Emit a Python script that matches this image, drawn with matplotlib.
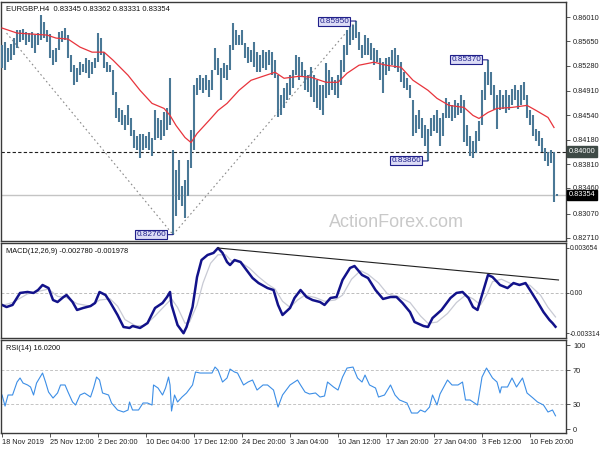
import numpy as np
import matplotlib
matplotlib.use("Agg")
import matplotlib.pyplot as plt

plt.rcParams['font.family'] = ['Liberation Sans', 'DejaVu Sans']

# ---------------- data ----------------
title = "EURGBP.H4  0.83345 0.83362 0.83331 0.83354"
tick_idx = [0, 32, 64, 96, 128, 160, 192, 224, 256, 288, 320, 352]
tick_labels = ["18 Nov 2019", "25 Nov 12:00", "2 Dec 20:00", "10 Dec 04:00",
               "17 Dec 12:00", "24 Dec 20:00", "3 Jan 04:00", "10 Jan 12:00",
               "17 Jan 20:00", "27 Jan 04:00", "3 Feb 12:00", "10 Feb 20:00"]

# price bars (every second H4 bar)
highs = [0.8559, 0.8564, 0.8555, 0.8561, 0.8570, 0.8582, 0.8582, 0.8583, 0.8579, 0.8577,
         0.8579, 0.8574, 0.8577, 0.8604, 0.8594, 0.8582, 0.8576, 0.8552, 0.8555, 0.8579,
         0.8580, 0.8585, 0.8574, 0.8544, 0.8529, 0.8525, 0.8534, 0.8531, 0.8540, 0.8537,
         0.8534, 0.8540, 0.8577, 0.8570, 0.8549, 0.8534, 0.8529, 0.8522, 0.8489, 0.8465,
         0.8462, 0.8454, 0.8469, 0.8450, 0.8432, 0.8424, 0.8427, 0.8427, 0.8424, 0.8429,
         0.8421, 0.8462, 0.8450, 0.8447, 0.8459, 0.8465, 0.8510, 0.8402, 0.8372, 0.8387,
         0.8349, 0.8357, 0.8387, 0.8432, 0.8499, 0.8510, 0.8514, 0.8510, 0.8514, 0.8507,
         0.8522, 0.8555, 0.8540, 0.8525, 0.8532, 0.8529, 0.8559, 0.8592, 0.8582, 0.8574,
         0.8582, 0.8562, 0.8556, 0.8552, 0.8564, 0.8549, 0.8544, 0.8552, 0.8549, 0.8552,
         0.8549, 0.8537, 0.8514, 0.8484, 0.8495, 0.8502, 0.8514, 0.8522, 0.8544, 0.8541,
         0.8534, 0.8522, 0.8514, 0.8526, 0.8514, 0.8507, 0.8499, 0.8499, 0.8532, 0.8522,
         0.8511, 0.8507, 0.8514, 0.8537, 0.8559, 0.8582, 0.8586, 0.8589, 0.8595, 0.8579,
         0.8559, 0.8574, 0.8570, 0.8562, 0.8555, 0.8552, 0.8540, 0.8534, 0.8540, 0.8541,
         0.8552, 0.8555, 0.8544, 0.8534, 0.8519, 0.8510, 0.8499, 0.8477, 0.8454, 0.8462,
         0.8450, 0.8439, 0.8434, 0.8450, 0.8454, 0.8462, 0.8450, 0.8458, 0.8480, 0.8474,
         0.8469, 0.8477, 0.8472, 0.8484, 0.8477, 0.8439, 0.8424, 0.8416, 0.8431, 0.8446,
         0.8492, 0.8519, 0.8537, 0.8519, 0.8499, 0.8484, 0.8492, 0.8484, 0.8492, 0.8484,
         0.8494, 0.8499, 0.8492, 0.8499, 0.8504, 0.8484, 0.8462, 0.8454, 0.8434, 0.8431,
         0.8420, 0.8405, 0.8399, 0.8402, 0.8399, 0.83362]
lows = [0.8525, 0.8522, 0.8534, 0.8537, 0.8544, 0.8555, 0.8564, 0.8567, 0.8559, 0.8564,
        0.8555, 0.8547, 0.8559, 0.8567, 0.8570, 0.8564, 0.8540, 0.8529, 0.8534, 0.8552,
        0.8564, 0.8567, 0.8540, 0.8519, 0.8499, 0.8504, 0.8514, 0.8519, 0.8517, 0.8510,
        0.8516, 0.8525, 0.8534, 0.8544, 0.8525, 0.8519, 0.8519, 0.8484, 0.8450, 0.8444,
        0.8439, 0.8432, 0.8439, 0.8424, 0.8405, 0.8402, 0.8391, 0.8402, 0.8405, 0.8402,
        0.8394, 0.8417, 0.8420, 0.8417, 0.8424, 0.8432, 0.8439, 0.8276, 0.8304, 0.8327,
        0.8319, 0.8301, 0.8334, 0.8375, 0.8402, 0.8484, 0.8492, 0.8487, 0.8492, 0.8481,
        0.8492, 0.8522, 0.8514, 0.8477, 0.8510, 0.8507, 0.8522, 0.8552, 0.8559, 0.8559,
        0.8559, 0.8540, 0.8532, 0.8534, 0.8526, 0.8519, 0.8519, 0.8525, 0.8522, 0.8529,
        0.8514, 0.8510, 0.8451, 0.8454, 0.8465, 0.8477, 0.8484, 0.8495, 0.8514, 0.8507,
        0.8511, 0.8492, 0.8489, 0.8481, 0.8474, 0.8465, 0.8462, 0.8454, 0.8480, 0.8484,
        0.8492, 0.8484, 0.8480, 0.8499, 0.8519, 0.8544, 0.8559, 0.8567, 0.8570, 0.8552,
        0.8540, 0.8544, 0.8544, 0.8537, 0.8529, 0.8534, 0.8507, 0.8487, 0.8514, 0.8521,
        0.8529, 0.8525, 0.8519, 0.8504, 0.8495, 0.8492, 0.8480, 0.8424, 0.8428, 0.8434,
        0.8421, 0.8409, 0.8386, 0.8424, 0.8431, 0.8428, 0.8409, 0.8424, 0.8450, 0.8450,
        0.8446, 0.8450, 0.8454, 0.8458, 0.8414, 0.8409, 0.8394, 0.8391, 0.8398, 0.8416,
        0.8439, 0.8477, 0.8499, 0.8484, 0.8462, 0.8434, 0.8462, 0.8464, 0.8458, 0.8462,
        0.8469, 0.8477, 0.8464, 0.8469, 0.8477, 0.8450, 0.8439, 0.8424, 0.8416, 0.8409,
        0.8399, 0.8386, 0.8379, 0.8383, 0.8324, 0.83331]
bar_idx = np.arange(len(highs)) * 2

# moving average (red)
ma_idx = [0, 10, 20, 30, 36, 44, 52, 60, 68, 74, 84, 92, 100, 108, 112, 116, 122, 126,
          130, 138, 144, 150, 158, 166, 176, 182, 188, 198, 206, 216, 224, 230, 238, 248,
          256, 266, 274, 284, 290, 298, 308, 314, 318, 324, 330, 340, 350, 356, 364, 368]
ma_val = [0.85845, 0.8577, 0.85755, 0.8574, 0.85695, 0.8568, 0.8556, 0.85485, 0.85485,
          0.85365, 0.8514, 0.84915, 0.8472, 0.84645, 0.8454, 0.8439, 0.8421, 0.84135,
          0.8427, 0.84465, 0.84615, 0.8472, 0.84915, 0.85065, 0.8514, 0.85185, 0.85095,
          0.85125, 0.8511, 0.85035, 0.85035, 0.8517, 0.8529, 0.85335, 0.8529, 0.8526,
          0.85065, 0.84915, 0.84795, 0.8469, 0.8466, 0.8454, 0.84495, 0.84585, 0.84645,
          0.8466, 0.8469, 0.84615, 0.8451, 0.8436]

# MACD(12,26,9)
macd_idx = [0, 3, 7, 12, 17, 21, 24, 27, 31, 34, 37, 41, 43, 47, 50, 54, 59, 62, 65, 69,
            72, 77, 81, 85, 87, 92, 97, 102, 107, 110, 112, 113, 117, 121, 123, 127, 130,
            133, 137, 141, 144, 147, 150, 152, 155, 159, 163, 167, 171, 177, 181, 184, 187,
            192, 195, 199, 203, 207, 212, 215, 219, 223, 227, 232, 235, 240, 244, 249, 254,
            259, 263, 267, 272, 275, 281, 284, 287, 293, 299, 303, 307, 311, 314, 317, 321,
            324, 327, 332, 337, 341, 345, 349, 352, 357, 361, 365, 367, 369]
macd_val = [-0.00100, -0.00117, -0.00100, -0.00002, 0.00006, -0.00002, 0.00022, 0.00063,
            0.00038, -0.00060, -0.00076, -0.00035, -0.00019, -0.00076, -0.00141, -0.00125,
            -0.00109, -0.00084, 0.00006, -0.00019, -0.00076, -0.00182, -0.00280, -0.00288,
            -0.00272, -0.00288, -0.00248, -0.00125, -0.00084, -0.00035, 0.00006, -0.00100,
            -0.00264, -0.00331, -0.00280, -0.00117, 0.00128, 0.00267, 0.00308, 0.00325,
            0.00365, 0.00325, 0.00251, 0.00226, 0.00267, 0.00251, 0.00185, 0.00120, 0.00079,
            0.00038, 0.00022, -0.00100, -0.00182, -0.00125, -0.00043, 0.00022, -0.00035,
            -0.00060, -0.00076, -0.00100, -0.00043, -0.00035, 0.00104, 0.00202, 0.00218,
            0.00145, 0.00120, 0.00022, -0.00051, -0.00035, -0.00035, -0.00084, -0.00158,
            -0.00239, -0.00272, -0.00280, -0.00207, -0.00141, -0.00043, -0.00002, 0.00006,
            -0.00043, -0.00117, -0.00141, 0.00022, 0.00145, 0.00128, 0.00063, 0.00038,
            0.00079, 0.00063, 0.00079, 0.00022, -0.00076, -0.00158, -0.00223, -0.00248,
            -0.00278]
sig_idx = [0, 7, 17, 24, 31, 37, 43, 50, 59, 65, 72, 77, 82, 89, 95, 102, 109, 113, 117,
           122, 125, 130, 134, 139, 144, 149, 153, 159, 165, 171, 177, 182, 187, 192, 197,
           202, 209, 215, 222, 227, 233, 239, 244, 251, 257, 264, 272, 279, 284, 290, 297,
           303, 309, 314, 319, 323, 327, 333, 340, 347, 352, 359, 364, 369]
sig_val = [-0.00105, -0.0008, -0.0001, 0.0001, 0.0003, -0.0003, -0.0004, -0.0009, -0.0011,
           -0.0006, -0.0005, -0.0011, -0.0022, -0.0027, -0.0027, -0.0019, -0.0010, -0.0005,
           -0.0012, -0.0025, -0.0024, -0.0010, 0.0008, 0.0024, 0.0031, 0.0031, 0.0026,
           0.0025, 0.0020, 0.0013, 0.0007, 0.0003, -0.0007, -0.0012, -0.0006, -0.0002,
           -0.0004, -0.0007, -0.0006, -0.0002, 0.0011, 0.0018, 0.0015, 0.0008, -0.0001,
           -0.0003, -0.0008, -0.0019, -0.0025, -0.0024, -0.0017, -0.0008, -0.0002, -0.0005,
           -0.0010, -0.0002, 0.0009, 0.0011, 0.0007, 0.0007, 0.0006, -0.0002, -0.0012,
           -0.00198]
macd_trend_idx = [144, 371]
macd_trend_val = [0.00365, 0.00104]

# RSI(14)
rsi_idx = [0, 2, 4, 7, 10, 12, 14, 17, 19, 21, 23, 27, 29, 31, 34, 37, 39, 42, 44, 47, 49,
           52, 55, 59, 61, 63, 65, 67, 71, 73, 77, 81, 84, 85, 87, 91, 94, 97, 100, 101,
           104, 107, 109, 111, 112, 113, 115, 117, 120, 123, 127, 129, 132, 137, 140, 142,
           144, 147, 150, 152, 155, 157, 161, 164, 167, 170, 174, 177, 181, 184, 187, 192,
           197, 199, 202, 205, 209, 212, 215, 217, 221, 224, 227, 230, 234, 237, 240, 242,
           245, 249, 251, 255, 259, 262, 265, 270, 273, 277, 279, 282, 285, 287, 290, 292,
           297, 300, 304, 307, 309, 312, 315, 317, 320, 323, 327, 330, 332, 333, 337, 340,
           343, 347, 350, 354, 357, 361, 364, 367, 369]
rsi_val = [40.7, 27.6, 40.7, 40.7, 56.1, 60.9, 54.9, 52.6, 50.2, 40.7, 54.9, 66.8, 56.1,
           44.2, 37.1, 43.1, 52.6, 52.6, 44.2, 32.4, 28.8, 40.7, 43.1, 38.3, 49.0, 62.0,
           58.5, 43.1, 40.7, 31.2, 22.9, 20.5, 22.9, 32.4, 22.9, 22.9, 31.2, 31.2, 28.8,
           52.6, 49.0, 40.7, 49.0, 62.0, 52.6, 21.7, 40.7, 32.4, 38.3, 43.1, 52.6, 68.0,
           66.8, 66.8, 66.8, 73.9, 70.3, 56.1, 60.9, 71.5, 68.0, 66.8, 52.6, 56.1, 58.5,
           46.6, 52.6, 52.6, 46.6, 26.4, 40.7, 52.6, 58.5, 52.6, 44.2, 41.9, 43.1, 38.3,
           39.5, 56.1, 50.2, 46.6, 62.0, 72.7, 73.9, 60.9, 56.1, 64.4, 52.6, 49.0, 38.3,
           40.7, 52.6, 40.7, 34.8, 31.2, 19.3, 19.3, 22.9, 20.5, 26.4, 40.7, 28.8, 41.9,
           58.5, 52.6, 52.6, 56.1, 34.8, 34.8, 31.2, 28.8, 62.0, 72.7, 60.9, 56.1, 43.1,
           50.2, 50.2, 60.9, 50.2, 60.9, 43.1, 37.1, 32.4, 28.8, 20.5, 22.9, 16.0]

# pivots and trend lines on price
pivot_idx = [114, 236, 284, 324]
pivot_price = [0.82760, 0.85950, 0.83860, 0.85370]
trend_idx = [3, 114, 236]
trend_price = [0.8577, 0.82760, 0.85950]

price_ticks = [0.86010, 0.85650, 0.85280, 0.84910, 0.84540, 0.84180, 0.83810,
               0.83460, 0.83070, 0.82710]
level_line = 0.84000
last_price = 0.83354
macd_ticks = [0.003654, 0.0, -0.003314]
macd_tick_labels = ["0.003654", "0.00", "-0.003314"]
rsi_ticks = [100, 70, 30, 0]
rsi_title = "RSI(14) 16.0200"
macd_title = "MACD(12,26,9) -0.002780 -0.001978"

# ---------------- layout ----------------
W, H = 600, 450
fig = plt.figure(figsize=(6, 4.5), dpi=100)
fig.patch.set_facecolor('white')

def rect(l, t, r, b):
    return [l / W, 1 - b / H, (r - l) / W, (b - t) / H]

ax1 = fig.add_axes(rect(1, 2, 566, 241))
ax2 = fig.add_axes(rect(1, 243, 566, 338))
ax3 = fig.add_axes(rect(1, 340, 566, 433))

FS = 5.3
spine_c = '#3a3a3a'
for ax in (ax1, ax2, ax3):
    ax.set_xlim(-0.7, 376)
    for s in ax.spines.values():
        s.set_color(spine_c)
        s.set_linewidth(1.0)
    ax.yaxis.tick_right()
    ax.tick_params(axis='y', labelsize=FS, length=3, width=0.6, pad=2,
                   direction='out', colors=spine_c, labelcolor='#222222')
    ax.set_facecolor('white')

# main panel
ax1.set_ylim(0.82665, 0.86234)
ax1.axhline(last_price, color='#c4c4c4', lw=1.0, zorder=1)
ax1.axhline(level_line, color='#202020', lw=0.8, ls=(0, (3, 2)), zorder=1)
ax1.plot(trend_idx[:2], trend_price[:2], color='#8a8a8a', lw=0.8, ls=(0, (1.5, 2.5)), zorder=2)
ax1.plot(trend_idx[1:], trend_price[1:], color='#8a8a8a', lw=0.8, ls=(0, (1.5, 2.5)), zorder=2)
ax1.vlines(bar_idx, lows, highs, color='#4a7896', lw=1.5, zorder=3)
ax1.plot(ma_idx, ma_val, color='#e8343c', lw=0.9, zorder=4)
ax1.set_yticks(price_ticks)
ax1.set_yticklabels([f"{v:.5f}" for v in price_ticks])
ax1.set_xticks([])

for pi, pp in zip(pivot_idx, pivot_price):
    ax1.annotate(f"{pp:.5f}", xy=(pi, pp), xytext=(-5, 0), textcoords='offset points',
                 ha='right', va='center', fontsize=FS + 0.6, color='#20208a',
                 bbox=dict(boxstyle='square,pad=0.12', fc='#dcdcf6', ec='#20208a', lw=0.8),
                 arrowprops=dict(arrowstyle='-', color='#20208a', lw=0.8,
                                 shrinkA=0, shrinkB=0), zorder=6)

# price boxes on the axis
for val, fc in ((level_line, '#3e4a46'), (last_price, '#000000')):
    ax1.text(1.005, val, f"{val:.5f}", transform=ax1.get_yaxis_transform(),
             ha='left', va='center', fontsize=FS, color='white', zorder=7,
             bbox=dict(boxstyle='square,pad=0.25', fc=fc, ec=fc), clip_on=False)

ax1.text(0.008, 0.985, title, transform=ax1.transAxes, ha='left', va='top',
         fontsize=FS + 0.2, color='#111111')
fig.text(396 / W, 1 - 222 / H, "ActionForex.com", ha='center', va='center',
         fontsize=13, color='#c9c9c9', family='Liberation Sans')

# MACD panel
ax2.set_ylim(-0.00370, 0.00406)
ax2.axhline(0, color='#bcbcbc', lw=0.7, ls=(0, (3, 2)))
ax2.plot(sig_idx, sig_val, color='#c8cad4', lw=0.9)
ax2.plot(macd_idx, macd_val, color='#12128a', lw=1.8)
ax2.plot(macd_trend_idx, macd_trend_val, color='#202020', lw=0.8)
ax2.set_yticks(macd_ticks)
ax2.set_yticklabels(macd_tick_labels)
ax2.tick_params(axis='y', labelsize=4.9, length=2, pad=1)
ax2.set_xticks([])
ax2.text(0.008, 0.95, macd_title, transform=ax2.transAxes, ha='left', va='top',
         fontsize=FS, color='#111111')

# RSI panel
ax3.set_ylim(-4.4, 106)
for lv in (70, 30):
    ax3.axhline(lv, color='#c4c4c4', lw=0.7, ls=(0, (3, 2)))
ax3.plot(rsi_idx, rsi_val, color='#3c8ee6', lw=0.8)
ax3.set_yticks(rsi_ticks)
ax3.set_yticklabels([str(v) for v in rsi_ticks])
ax3.text(0.008, 0.95, rsi_title, transform=ax3.transAxes, ha='left', va='top',
         fontsize=FS, color='#111111')
ax3.set_xticks(tick_idx)
ax3.set_xticklabels(tick_labels, ha='left')
ax3.tick_params(axis='x', labelsize=FS, length=3, width=0.6, pad=1.5,
                direction='out', colors=spine_c, labelcolor='#222222')

fig.savefig('out.png', dpi=100)
